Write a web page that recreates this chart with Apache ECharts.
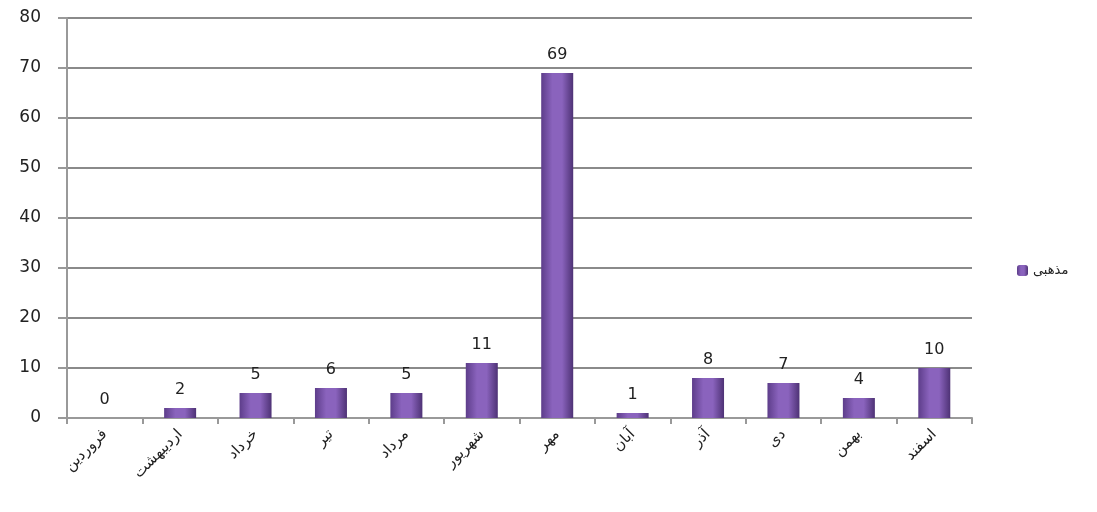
<!DOCTYPE html>
<html>
<head>
<meta charset="utf-8">
<script src="https://cdn.jsdelivr.net/npm/echarts@6/dist/echarts.min.js"></script>
<style>
  html, body { margin: 0; padding: 0; background: #fff; }
  #chart { width: 1097px; height: 512px; }
</style>
</head>
<body>
<div id="chart"></div>
<script>
// months of the Persian calendar
var months = ['فروردین', 'اردیبهشت', 'خرداد', 'تیر', 'مرداد', 'شهریور', 'مهر', 'آبان', 'آذر', 'دی', 'بهمن', 'اسفند']
var religious = [0, 2, 5, 6, 5, 11, 69, 1, 8, 7, 4, 10]
var seriesName = 'مذهبی'

var chart = echarts.init(document.getElementById('chart'))
chart.setOption({
  animation: false,
  textStyle: { fontFamily: 'DejaVu Sans, Noto Sans, sans-serif' },
  legend: {
    data: [seriesName],
    orient: 'vertical',
    left: 1012,
    top: 259,
    itemWidth: 11,
    itemHeight: 11,
    itemGap: 5,
    textStyle: { fontSize: 13, color: '#222' }
  },
  grid: {
    left: 67,
    right: 125,
    top: 18,
    bottom: 94
  },
  xAxis: {
    type: 'category',
    data: months,
    axisLine: { lineStyle: { color: '#999', width: 2 } },
    axisTick: { show: true, length: 6, lineStyle: { color: '#999', width: 2 } },
    axisLabel: {
      rotate: 45,
      fontSize: 15,
      color: '#222',
      margin: 14,
      interval: 0
    }
  },
  yAxis: {
    type: 'value',
    min: 0,
    max: 80,
    interval: 10,
    axisLine: { show: true, lineStyle: { color: '#999', width: 2 } },
    axisTick: { show: true, length: 9, lineStyle: { color: '#999', width: 2 } },
    axisLabel: { fontSize: 17, color: '#222', margin: 26 },
    splitLine: { lineStyle: { color: '#8a8a8a', width: 2 } }
  },
  series: [{
    name: seriesName,
    type: 'bar',
    data: religious,
    barWidth: 32,
    itemStyle: {
      color: new echarts.graphic.LinearGradient(0, 0, 1, 0, [
        { offset: 0, color: '#5d3d8a' },
        { offset: 0.35, color: '#8a63bd' },
        { offset: 0.65, color: '#8a63bd' },
        { offset: 1, color: '#4e3275' }
      ])
    },
    label: {
      show: true,
      position: 'top',
      distance: 10,
      fontSize: 16,
      color: '#222'
    }
  }]
})
</script>
</body>
</html>
